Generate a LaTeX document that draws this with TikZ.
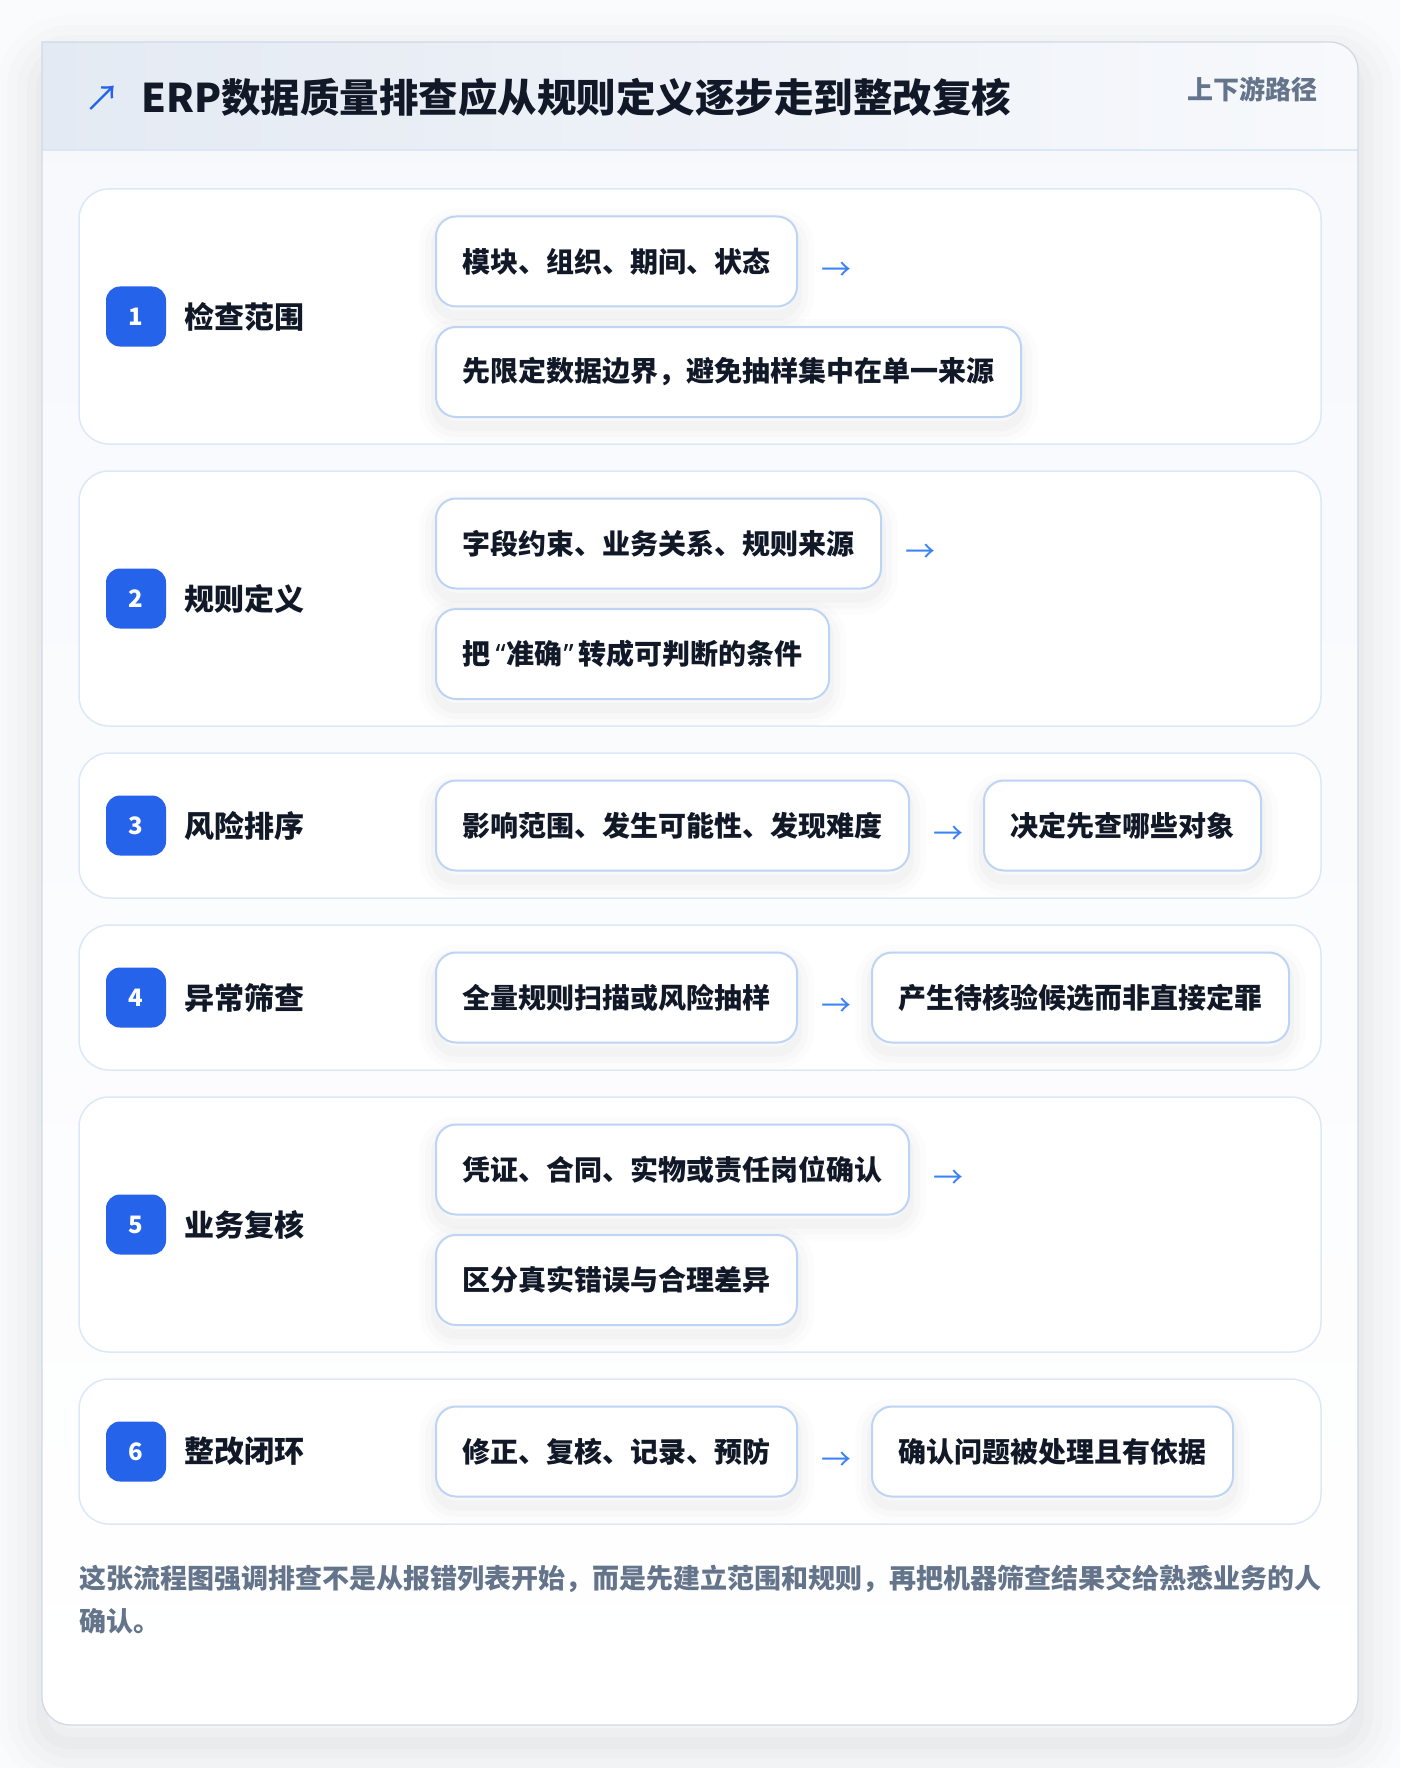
\documentclass[tikz,border=0pt]{standalone}
\usepackage{fontspec}
\setmainfont{Noto Sans CJK SC}
\newfontfamily\titlefont{Noto Sans CJK SC Black}
\newfontfamily\latinq{Noto Sans}
\usetikzlibrary{positioning}
\definecolor{pagebg}{HTML}{FAFBFC}
\definecolor{cardline}{HTML}{D0D9E5}
\definecolor{hdrL}{HTML}{E4EAF3}
\definecolor{hdrR}{HTML}{F7F9FC}
\definecolor{hdrline}{HTML}{DCE7F6}
\definecolor{bodytop}{HTML}{F6F8FC}
\definecolor{rowline}{HTML}{DCE8F8}
\definecolor{boxline}{HTML}{BDD4F4}
\definecolor{ink}{HTML}{111827}
\definecolor{muted}{HTML}{64748B}
\definecolor{badge}{HTML}{2563EB}
\definecolor{arrowc}{HTML}{3B82F6}
\begin{document}
\begin{tikzpicture}[x=1pt,y=-1pt,
  softshadow/.style={
    preaction={draw=black, draw opacity=0.010, line width=34pt, line join=round, transform canvas={yshift=-9pt}},
    preaction={draw=black, draw opacity=0.014, line width=22pt, line join=round, transform canvas={yshift=-9pt}},
    preaction={draw=black, draw opacity=0.018, line width=10pt, line join=round, transform canvas={yshift=-9pt}}},
  rowcard/.style={draw=rowline, line width=1.5pt, fill=white, rounded corners=30pt},
  stepbox/.style={draw=boxline, line width=2pt, fill=white, rounded corners=20pt,
    minimum height=90pt, inner xsep=26.5pt, inner ysep=0pt, anchor=west,
    font=\fontsize{28}{34}\selectfont\bfseries, text=ink, softshadow},
  badgebox/.style={fill=badge, rounded corners=14pt, minimum width=60pt, minimum height=60pt,
    inner sep=0pt, text=white, font=\fontsize{24}{28}\selectfont\bfseries},
  rowlabel/.style={anchor=west, inner sep=0pt, text=ink, font=\fontsize{30}{36}\selectfont\bfseries},
  flowarrow/.style={inner sep=0pt, text=arrowc, font=\fontsize{30}{36}\selectfont},
]
\useasboundingbox (0,0) rectangle (1400,1768);
\fill[pagebg] (0,0) rectangle (1400,1768);
% card shadow
\foreach \w/\o in {90/0.008,70/0.010,50/0.012,30/0.014,12/0.016}{
  \draw[black, draw opacity=\o, line width=\w pt, rounded corners=28pt, transform canvas={yshift=-18pt}]
    (42,42) rectangle (1358,1725);
}
% card body
\shade[top color=bodytop, bottom color=white, rounded corners=28pt] (42,42) rectangle (1358,1725);
% header
\shade[left color=hdrL, right color=hdrR] (42,150) -- (42,42) -- (1330,42) arc(-90:0:28) -- (1358,150) -- cycle;
\draw[hdrline, line width=2pt] (42,150) -- (1358,150);
% card border
\draw[cardline, line width=1.3pt] (42,150) -- (42,42) -- (1330,42) arc(-90:0:28) -- (1358,1697) arc(0:90:28) -- (70,1725) arc(90:180:28) -- cycle;

% title
\node[inner sep=0pt, text=badge, font=\fontsize{36}{40}\selectfont] (ticon) at (102,99) {↗};
\node[anchor=west, inner sep=0pt, text=ink, font=\fontsize{39.5}{48}\selectfont\titlefont] (title) at (141,97.5) {ERP数据质量排查应从规则定义逐步走到整改复核};
\node[anchor=east, inner sep=0pt, text=muted, font=\fontsize{26}{32}\selectfont\bfseries] (tag) at (1318,89.5) {上下游路径};

% row 1
\draw[rowcard] (79,189) rectangle (1321,444);
\node[badgebox] (b1) at (136,316.5) {1};
\node[rowlabel] (l1) at (184,316.5) {检查范围};
\node[stepbox] (a1) at (435,261.5) {模块、组织、期间、状态};
\node[flowarrow] (f1) at ([xshift=38.5pt,yshift=-10pt]a1.east) {→};
\node[stepbox] (c1) at (435,372) {先限定数据边界，避免抽样集中在单一来源};

% row 2
\draw[rowcard] (79,471) rectangle (1321,726);
\node[badgebox] (b2) at (136,598.5) {2};
\node[rowlabel] (l2) at (184,598.5) {规则定义};
\node[stepbox] (a2) at (435,543.5) {字段约束、业务关系、规则来源};
\node[flowarrow] (f2) at ([xshift=38.5pt,yshift=-10pt]a2.east) {→};
\node[stepbox] (c2) at (435,654) {把\kern5pt{\latinq\bfseries “}\kern1pt 准确\kern1pt{\latinq\bfseries ”}\kern5pt 转成可判断的条件};

% row 3
\draw[rowcard] (79,753) rectangle (1321,898);
\node[badgebox] (b3) at (136,825.5) {3};
\node[rowlabel] (l3) at (184,825.5) {风险排序};
\node[stepbox] (a3) at (435,825.5) {影响范围、发生可能性、发现难度};
\node[flowarrow] (f3) at ([xshift=38.5pt,yshift=-10pt]a3.east) {→};
\node[stepbox] (c3) at ([xshift=73pt]a3.east) {决定先查哪些对象};

% row 4
\draw[rowcard] (79,925) rectangle (1321,1070);
\node[badgebox] (b4) at (136,997.5) {4};
\node[rowlabel] (l4) at (184,997.5) {异常筛查};
\node[stepbox] (a4) at (435,997.5) {全量规则扫描或风险抽样};
\node[flowarrow] (f4) at ([xshift=38.5pt,yshift=-10pt]a4.east) {→};
\node[stepbox] (c4) at ([xshift=73pt]a4.east) {产生待核验候选而非直接定罪};

% row 5
\draw[rowcard] (79,1097) rectangle (1321,1352);
\node[badgebox] (b5) at (136,1224.5) {5};
\node[rowlabel] (l5) at (184,1224.5) {业务复核};
\node[stepbox] (a5) at (435,1169.5) {凭证、合同、实物或责任岗位确认};
\node[flowarrow] (f5) at ([xshift=38.5pt,yshift=-10pt]a5.east) {→};
\node[stepbox] (c5) at (435,1280) {区分真实错误与合理差异};

% row 6
\draw[rowcard] (79,1379) rectangle (1321,1524);
\node[badgebox] (b6) at (136,1451.5) {6};
\node[rowlabel] (l6) at (184,1451.5) {整改闭环};
\node[stepbox] (a6) at (435,1451.5) {修正、复核、记录、预防};
\node[flowarrow] (f6) at ([xshift=38.5pt,yshift=-10pt]a6.east) {→};
\node[stepbox] (c6) at ([xshift=73pt]a6.east) {确认问题被处理且有依据};

% footer note
\node[anchor=north west, inner sep=0pt, align=left, text=muted, font=\fontsize{27}{43}\selectfont\bfseries] (note) at (79,1565)
  {这张流程图强调排查不是从报错列表开始，而是先建立范围和规则，再把机器筛查结果交给熟悉业务的人\\确认。};
\end{tikzpicture}
\end{document}
